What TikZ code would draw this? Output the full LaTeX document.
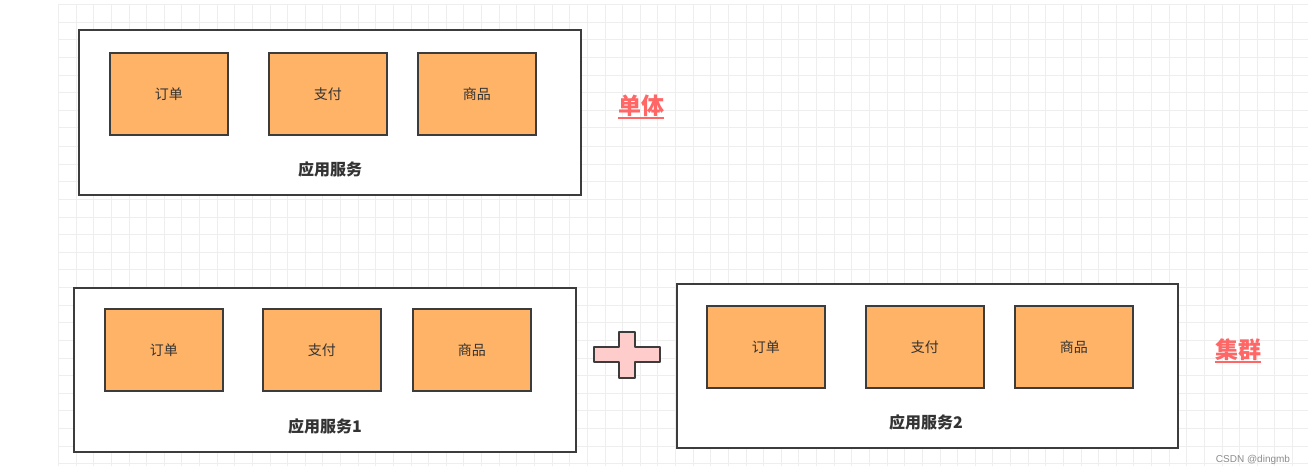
\documentclass[tikz,border=0pt]{standalone}
\usepackage{fontspec}
\newfontfamily\cjk{Noto Sans CJK SC}
\setsansfont{Liberation Sans}
\definecolor{gridc}{HTML}{EEEEEE}
\definecolor{boxline}{HTML}{3C3C3C}
\definecolor{orangef}{HTML}{FFB366}
\definecolor{pinkf}{HTML}{FFCCCC}
\definecolor{redt}{HTML}{FF6666}
\definecolor{txt}{HTML}{333333}
\begin{document}
\begin{tikzpicture}[x=1pt,y=-1pt,
  outerbox/.style={draw=boxline,line width=1.8pt,fill=white},
  modbox/.style={draw=boxline,line width=1.8pt,fill=orangef,minimum width=118pt,minimum height=82pt,anchor=north west,inner sep=0pt,font=\cjk\fontsize{14}{16}\selectfont,text=txt},
  svclabel/.style={font=\cjk\bfseries\fontsize{16}{18}\selectfont,text=txt},
  kindlabel/.style={font=\cjk\bfseries\fontsize{23}{25}\selectfont,text=redt,inner sep=0pt},
  uline/.style={draw=redt,line width=2pt}]
\useasboundingbox (0,0) rectangle (1308,476);
\fill[white] (0,0) rectangle (1308,476);
% grid
\begin{scope}
\clip (58,5) rectangle (1308,466);
\foreach \i in {0,...,71}{
  \pgfmathtruncatemacro{\xx}{round(58+17.63*\i)}
  \draw[gridc,line width=1pt] (\xx,5) -- (\xx,466);
}
\foreach \j in {0,...,26}{
  \pgfmathtruncatemacro{\yy}{round(5+17.63*\j)}
  \draw[gridc,line width=1pt] (58,\yy) -- (1308,\yy);
}
\end{scope}
% top: monolith
\draw[outerbox] (79,30) rectangle (581,195);
\node[modbox] (a1) at (109,52) {订单};
\node[modbox] (a2) at (268,52) {支付};
\node[modbox] (a3) at (417,52) {商品};
\node[svclabel] (as) at (330,169) {应用服务};
\node[kindlabel] (ak) at (641,106) {单体};
\draw[uline] ([yshift=-1pt]ak.south west) -- ([yshift=-1pt]ak.south east);
% bottom: cluster
\draw[outerbox] (74,288) rectangle (576,452);
\node[modbox] (b1) at (104,308) {订单};
\node[modbox] (b2) at (262,308) {支付};
\node[modbox] (b3) at (412,308) {商品};
\node[svclabel] (bs) at (325,426) {应用服务1};
\draw[outerbox] (677,284) rectangle (1178,448);
\node[modbox] (c1) at (706,305) {订单};
\node[modbox] (c2) at (865,305) {支付};
\node[modbox] (c3) at (1014,305) {商品};
\node[svclabel] (cs) at (926,422) {应用服务2};
% plus
\draw[draw=boxline,line width=1.6pt,fill=pinkf,line join=round]
  (619,332) -- (635,332) -- (635,347) -- (660,347) -- (660,362) -- (635,362)
  -- (635,378) -- (619,378) -- (619,362) -- (594,362) -- (594,347) -- (619,347) -- cycle;
\node[kindlabel] (ck) at (1238,350) {集群};
\draw[uline] ([yshift=-1pt]ck.south west) -- ([yshift=-1pt]ck.south east);
\node[font=\sffamily\fontsize{10}{12}\selectfont,text=black!45] (wm) at (1253,460) {CSDN @dingmb};
\end{tikzpicture}
\end{document}
